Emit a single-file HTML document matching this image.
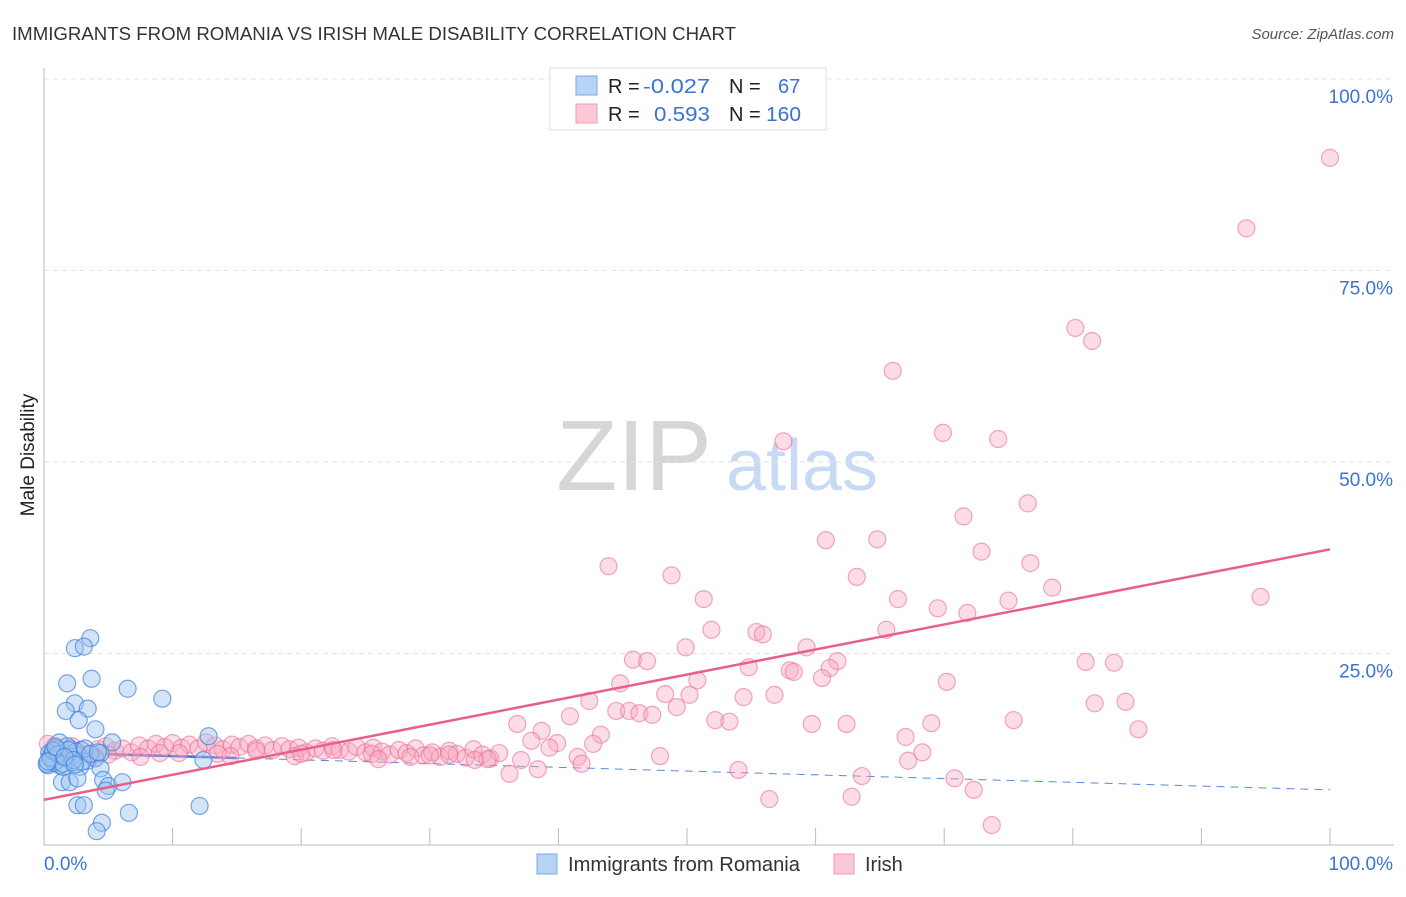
<!DOCTYPE html>
<html><head><meta charset="utf-8"><style>
body{margin:0;background:#fff;font-family:"Liberation Sans",sans-serif;}
svg text{font-family:"Liberation Sans",sans-serif;}
</style></head><body>
<svg id="chart" width="1406" height="892" xmlns="http://www.w3.org/2000/svg">
<text x="12" y="40" font-size="18" fill="#333" textLength="724" lengthAdjust="spacingAndGlyphs">IMMIGRANTS FROM ROMANIA VS IRISH MALE DISABILITY CORRELATION CHART</text>
<text x="1394" y="39" font-size="15" fill="#555" text-anchor="end" font-style="italic">Source: ZipAtlas.com</text>
<text x="34" y="455" font-size="19" fill="#222" text-anchor="middle" transform="rotate(-90 34 455)">Male Disability</text>
<g>
<text x="634" y="490" font-size="100" fill="#d6d6d6" font-family="Liberation Serif" text-anchor="middle">ZIP</text>
<text x="802" y="490" font-size="72" fill="#c8daf3" text-anchor="middle">atlas</text>
</g>
<g id="grid"></g><g id="axes"></g><g id="lines"></g><g id="pts"></g>
<g>
<rect x="550" y="68" width="276" height="62" fill="#fff" stroke="#ddd"/>
<rect x="576" y="76" width="21" height="19" fill="#b7d3f5" stroke="#7aaae8"/>
<rect x="576" y="104" width="21" height="19" fill="#fbc8d6" stroke="#f09ab2"/>
<text x="608" y="93" font-size="20" fill="#222">R = </text><text x="643" y="93" font-size="20" fill="#3b73d1" textLength="67" lengthAdjust="spacingAndGlyphs">-0.027</text>
<text x="729" y="93" font-size="20" fill="#222">N = </text><text x="778" y="93" font-size="20" fill="#3b73d1">67</text>
<text x="608" y="121" font-size="20" fill="#222">R = </text><text x="654" y="121" font-size="20" fill="#3b73d1" textLength="56" lengthAdjust="spacingAndGlyphs">0.593</text>
<text x="729" y="121" font-size="20" fill="#222">N = </text><text x="766" y="121" font-size="20" fill="#3b73d1" textLength="35" lengthAdjust="spacingAndGlyphs">160</text>
</g>
<g>
<rect x="537" y="854" width="20" height="20" fill="#b7d3f5" stroke="#7aaae8"/>
<text x="568" y="871" font-size="20" fill="#333" textLength="232" lengthAdjust="spacingAndGlyphs">Immigrants from Romania</text>
<rect x="834" y="854" width="20" height="20" fill="#fbc8d6" stroke="#f09ab2"/>
<text x="865" y="871" font-size="20" fill="#333">Irish</text>
</g>
</svg>
<script>
const yTicks=[25,50,75,100];
const yTickLabels=["25.0%","50.0%","75.0%","100.0%"];
const blueX=[3.6,2.4,3.1,1.8,3.7,6.5,9.2,2.4,1.7,3.4,2.7,4,12.8,5.3,1.2,2,2.9,0.5,0.9,0.3,1.2,1.6,2.2,2.7,3.4,4,4.4,12.4,2.8,4.4,1.4,2,2.6,4.6,5,4.8,6.1,2.6,3.1,12.1,4.5,6.6,4.1,0.4,0.6,0.8,1,1.3,1.5,1.8,2.1,2.5,3,0.2,0.5,0.7,1.1,1.5,1.9,2.3,3.2,0.3,0.9,1.6,2.4,3.6,4.2];
const blueY=[27,25.7,25.9,21.1,21.7,20.4,19.1,18.5,17.5,17.8,16.3,15.1,14.2,13.4,13.4,12.6,12.4,11.7,11,10.4,10.4,11.3,10.8,11.7,11,11.3,12,11.1,10.2,10,8.2,8.2,8.7,8.5,7.7,7.1,8.2,5.2,5.2,5.1,2.9,4.2,1.8,12,11.2,10.7,12.5,11.8,10.2,12.9,11.5,12.2,10.9,10.6,11.4,12.3,11.9,10.6,12.4,11.1,12.6,10.9,12.8,11.5,10.5,11.9,12.1];
const pinkX=[100,93.5,80.2,81.5,66,57.5,69.9,74.2,76.5,71.5,60.8,64.8,72.9,43.9,48.8,63.2,76.7,78.4,94.6,51.3,66.4,69.5,71.8,75,51.9,65.5,55.4,55.9,59.3,49.9,45.8,46.9,61.7,81,83.2,54.8,61.1,58,58.3,60.5,50.8,44.8,70.2,48.3,50.2,54.4,56.8,42.4,49.2,81.7,84.1,44.5,45.5,46.3,47.3,40.9,52.2,53.3,75.4,59.7,62.4,69,36.8,85.1,38.7,43.3,67,37.9,39.9,42.7,39.3,68.3,47.9,67.2,41.5,37.1,41.8,38.4,54,36.2,63.6,70.8,56.4,62.8,72.3,73.7,
0.3,1,1.6,2.2,2.9,3.5,4.2,4.8,5.5,6.1,6.8,7.4,8.1,8.7,9.4,10,10.7,11.3,12,12.6,13.3,13.9,14.6,15.2,15.9,16.5,17.2,17.8,18.5,19.1,19.8,20.4,21.1,21.7,22.4,23,23.7,24.3,25,25.6,26.3,26.9,27.6,28.2,28.9,29.5,30.2,30.8,31.5,32.1,32.8,33.4,34.1,34.7,35.4,2.5,5,7.5,10.5,13.5,16.5,19.5,22.5,25.5,28.5,31.5,34.5,0.8,4,9,14.5,20,26,30,33.5];
const pinkY=[89.7,80.5,67.5,65.8,61.9,52.7,53.8,53,44.6,42.9,39.8,39.9,38.3,36.4,35.2,35,36.8,33.6,32.4,32.1,32.1,30.9,30.3,31.9,28.1,28.1,27.8,27.5,25.8,25.8,24.2,24,24,23.9,23.8,23.2,23.1,22.8,22.6,21.8,21.5,21.1,21.3,19.7,19.6,19.3,19.6,18.8,18,18.5,18.7,17.5,17.5,17.2,17,16.8,16.3,16.1,16.3,15.8,15.8,15.9,15.8,15.1,14.9,14.4,14.1,13.6,13.3,13.2,12.7,12.1,11.6,11,11.5,11.1,10.6,9.9,9.8,9.3,9,8.7,6,6.3,7.2,2.6,
13.2,12.6,12.1,12.9,12.4,11.9,12.5,12.9,12.3,12.6,12.1,13,12.6,13.2,12.8,13.3,12.7,13.1,12.6,13.4,13,12.5,13.1,12.8,13.2,12.6,13,12.4,12.9,12.5,12.7,12.1,12.6,12.3,12.9,12.4,12.2,12.8,12.1,12.7,12.2,11.8,12.4,12,12.6,11.7,12.1,11.5,12.3,11.9,11.4,12.5,11.8,11.3,12,11.3,11.8,11.5,12,11.9,12.3,11.6,12.4,11.9,11.5,11.8,11.2,12.9,11.4,12,11.6,11.9,11.2,11.7,11.1];
const blueFit=[12.1,7.2], pinkFit=[5.9,38.6];
const NS="http://www.w3.org/2000/svg";
const X=v=>44+v*12.86, Y=v=>845-v*7.66;
function mk(parent,tag,attrs){const e=document.createElementNS(NS,tag);for(const k in attrs)e.setAttribute(k,attrs[k]);document.getElementById(parent).appendChild(e);return e;}
yTicks.forEach((t,i)=>{
 const g=mk('grid','line',{x1:44,x2:1394,y1:Y(t),y2:Y(t),stroke:'#e2e2e2','stroke-dasharray':'5,4'});
 
 
 const l=mk('axes','text',{x:1393,y:Y(t)+24,'font-size':19,fill:'#3b73d1','text-anchor':'end'});l.textContent=yTickLabels[i];
 
 
});
let a=mk('axes','line',{x1:44,x2:44,y1:68,y2:845,stroke:'#bbb'});


a=mk('axes','line',{x1:44,x2:1394,y1:845,y2:845,stroke:'#bbb'});


for(let i=1;i<=10;i++){const t=mk('axes','line',{x1:X(i*10),x2:X(i*10),y1:828,y2:845,stroke:'#bbb'});
 
 }
let xl=mk('axes','text',{x:44,y:870,'font-size':19,fill:'#3b73d1'});xl.textContent='0.0%';


xl=mk('axes','text',{x:1393,y:870,'font-size':19,fill:'#3b73d1','text-anchor':'end'});xl.textContent='100.0%';


pinkX.forEach((x,i)=>{const c=mk('pts','circle',{cx:X(x),cy:Y(pinkY[i]),r:8.5,fill:'rgba(247,168,192,0.4)',stroke:'rgba(236,110,150,0.6)','stroke-width':1.2});
 
 });
blueX.forEach((x,i)=>{const c=mk('pts','circle',{cx:X(x),cy:Y(blueY[i]),r:8.5,fill:'rgba(160,196,240,0.45)',stroke:'rgba(60,130,220,0.7)','stroke-width':1.2});
 
 });
const by=x=>blueFit[0]+(blueFit[1]-blueFit[0])*x/100;
let ln=mk('lines','line',{x1:X(0),y1:Y(by(0)),x2:X(15),y2:Y(by(15)),stroke:'#2f6fd6','stroke-width':2.5});


ln=mk('lines','line',{x1:X(15),y1:Y(by(15)),x2:X(100),y2:Y(by(100)),stroke:'#5a8ad8','stroke-width':1,'stroke-dasharray':'8,6'});


ln=mk('pts','line',{x1:X(0),y1:Y(pinkFit[0]),x2:X(100),y2:Y(pinkFit[1]),stroke:'#e8608a','stroke-width':2.5});


</script>
</body></html>
